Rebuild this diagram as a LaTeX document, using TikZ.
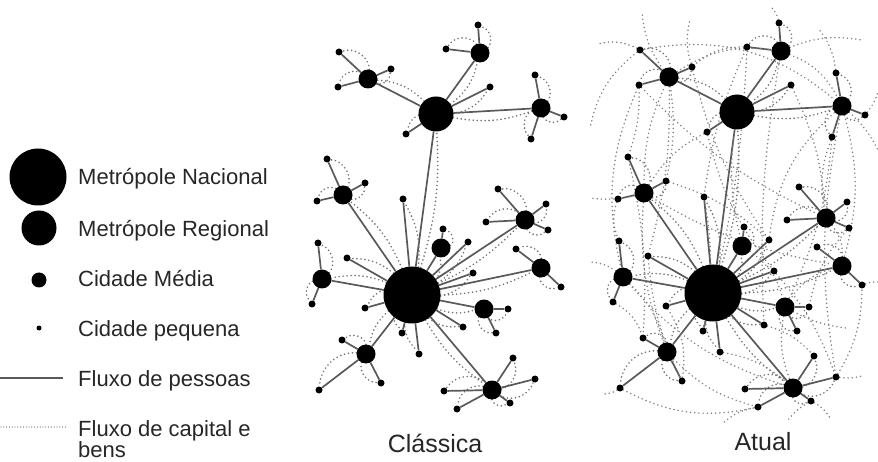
\documentclass[tikz,border=0pt]{standalone}
\usepackage{fontspec}
\setmainfont{Liberation Sans}
\pgfdeclarelayer{bg}
\pgfsetlayers{bg,main}
\begin{document}
\begin{tikzpicture}[x=1pt,y=-1pt,
  hub/.style={circle,fill=black,inner sep=0pt,minimum size=57pt},
  reg/.style={circle,fill=black,inner sep=0pt,minimum size=35pt},
  med/.style={circle,fill=black,inner sep=0pt,minimum size=19pt},
  sml/.style={circle,fill=black,inner sep=0pt,minimum size=7pt},
  flow/.style={draw=black!65,line width=1.7pt},
  dotflow/.style={draw=black!55,line width=1.8pt,line cap=round,dash pattern=on 0pt off 4pt},
  webflow/.style={draw=black!50,line width=1.7pt,line cap=round,dash pattern=on 0pt off 4.2pt},
  lbl/.style={anchor=base west,inner sep=0pt,font=\fontsize{22}{24}\selectfont,text=black!85},
  ttl/.style={anchor=center,inner sep=0pt,font=\fontsize{25}{28}\selectfont,text=black!85}]
\useasboundingbox (0,0) rectangle (878,462);

% ---------- legend ----------
\node[hub] (lgN) at (38,177) {};
\node[circle,fill=black,inner sep=0pt,minimum size=35pt] (lgR) at (39,228) {};
\node[circle,fill=black,inner sep=0pt,minimum size=15pt] (lgM) at (39,280) {};
\node[circle,fill=black,inner sep=0pt,minimum size=5pt] (lgS) at (39,328) {};
\coordinate (lgFa) at (0,378);
\coordinate (lgFb) at (63,378);
\coordinate (lgCa) at (1,427);
\coordinate (lgCb) at (67,427);
\draw[flow,line width=1.2pt] (lgFa) -- (lgFb);
\draw[dotflow,line width=1.3pt,dash pattern=on 0pt off 2.8pt] (lgCa) -- (lgCb);
\node[lbl] (tN) at (78,185) {Metrópole Nacional};
\node[lbl] (tR) at (78,236.5) {Metrópole Regional};
\node[lbl] (tM) at (78,286.5) {Cidade Média};
\node[lbl] (tS) at (78,336.5) {Cidade pequena};
\node[lbl] (tF) at (78,386.5) {Fluxo de pessoas};
\node[lbl] (tC1) at (78,436.5) {Fluxo de capital e};
\node[lbl] (tC2) at (78,457) {bens};

\node[ttl] (tCl) at (435,443) {Clássica};
\node[ttl] (tAt) at (763,442) {Atual};

% ---------- both panels ----------
\foreach \p/\dx/\dy in {c/0/0, a/301/-2} {
\begin{scope}[shift={(\dx,\dy)}]
  \node[hub] (\p-N) at (412,295) {};
  \node[reg] (\p-R) at (436,114) {};
  \node[med] (\p-m1) at (480,53) {};
  \node[med] (\p-m2) at (368,79) {};
  \node[med] (\p-m3) at (541,108) {};
  \node[med] (\p-m4) at (343,195) {};
  \node[med] (\p-m5) at (525,220) {};
  \node[med] (\p-m6) at (441,248) {};
  \node[med] (\p-m7) at (541,268) {};
  \node[med] (\p-m8) at (484,309) {};
  \node[med] (\p-m9) at (492,390) {};
  \node[med] (\p-m10) at (366,354) {};
  \node[med] (\p-m11) at (322,279) {};
  \foreach \n/\x/\y in {s1a/478/25, s1b/446/49, s2a/339/52, s2b/338/87, s2c/391/69,
     s3a/535/75, s3b/564/117, s3c/531/139, r1/490/87, r2/406/134,
     s4a/327/159, s4b/365/183, s4c/317/201, s5a/498/189, s5b/546/204, s5c/486/222, s5d/548/230,
     s6a/443/229, s7a/516/249, s7b/561/287, s8a/508/309, s8b/496/333,
     s9a/513/358, s9b/535/379, s9c/510/403, s9d/457/409, s9e/444/391,
     s10a/342/340, s10b/381/383, s10c/319/390, s11a/318/243, s11b/312/304,
     n1/403/199, n2/347/258, n3/365/308, n4/402/333, n5/419/354, n6/463/327, n7/473/273, n8/468/242}
    {\node[sml] (\p-\n) at (\x,\y) {};}
  \begin{pgfonlayer}{bg}
  \foreach \h/\k/\b in {N/R/10, N/n1/18, N/m4/14, N/n2/20, N/m11/16, N/n3/25, N/m10/18, N/n4/25,
     N/n5/22, N/m9/12, N/n6/22, N/m8/18, N/n7/22, N/m7/12, N/m5/10, N/n8/18, N/m6/25,
     R/m1/20, R/m2/20, R/m3/15, R/r1/25, R/r2/30,
     m1/s1a/60, m1/s1b/60, m2/s2a/55, m2/s2b/55, m2/s2c/55, m3/s3a/55, m3/s3b/55, m3/s3c/55,
     m4/s4a/55, m4/s4b/55, m4/s4c/55, m5/s5a/50, m5/s5b/55, m5/s5c/50, m5/s5d/55,
     m6/s6a/70, m7/s7a/55, m7/s7b/55, m8/s8a/65, m8/s8b/60,
     m9/s9a/50, m9/s9b/50, m9/s9c/55, m9/s9d/50, m9/s9e/50,
     m10/s10a/60, m10/s10b/55, m10/s10c/45, m11/s11a/55, m11/s11b/55}
    {\draw[dotflow] (\p-\h) to[bend right=\b] (\p-\k);
     \draw[flow] (\p-\h) -- (\p-\k);}
  \end{pgfonlayer}
\end{scope}
}

% ---------- extra web of capital flows (Atual) ----------
\coordinate (e1) at (590,128);
\coordinate (e2) at (642,12);
\coordinate (e3) at (770,6);
\coordinate (e4) at (862,40);
\coordinate (e5) at (878,92);
\coordinate (e6) at (878,282);
\coordinate (e7) at (590,262);
\coordinate (e8) at (603,394);
\coordinate (e9) at (862,376);
\coordinate (e10) at (830,418);
\coordinate (e11) at (722,424);
\coordinate (e12) at (590,198);
\coordinate (e13) at (818,28);
\coordinate (e14) at (846,328);
\coordinate (e15) at (690,20);
\coordinate (e16) at (878,150);
\coordinate (e17) at (598,44);
\coordinate (e18) at (788,420);
\begin{pgfonlayer}{bg}
\foreach \u/\v/\b in {a-m2/a-m1/20, a-m2/a-m4/-12, a-s2b/a-s4a/10, a-s2b/a-m11/-18, a-m2/a-n2/8,
   a-s1b/a-n1/-8, a-m1/a-m3/20, a-r1/a-m5/10, a-s3c/a-m5/-15, a-m3/a-m7/15, a-R/a-m6/-10,
   a-r2/a-m4/-15, a-n1/a-n4/10, a-m4/a-m10/-12, a-m11/a-m10/15, a-m10/a-s9d/-15, a-n5/a-m9/15,
   a-m8/a-m9/-15, a-m7/a-m8/-20, a-m5/a-m7/20, a-s9b/a-s7b/-15, a-n3/a-s10b/20, a-s10c/a-s9d/-20,
   a-n6/a-s9a/15, a-s5d/a-s8a/-15, a-s1b/a-s2c/-20, a-m6/a-m8/20, a-n8/a-m3/20, a-s4c/a-s11a/-20,
   a-m2/a-s4b/10, a-s2c/a-n8/-10, a-s1b/a-n4/6, a-m1/a-n6/-6, a-s3c/a-m8/10, a-m3/a-s9b/-10,
   a-s2a/a-m3/25, a-s2b/a-m5/-10, a-m4/a-m7/-10, a-m11/a-m9/-15, a-s4a/a-s10a/8,
   a-n2/a-s10b/-10, a-s11b/a-s10a/20, a-n7/a-s9b/10, a-r2/a-n7/-12, a-s4b/a-n8/12,
   a-s2a/e1/-20, a-m2/e2/15, a-s1a/e3/-15, a-m1/e4/15, a-s3b/e5/-10, a-s7b/e6/10, a-m11/e7/-15,
   a-s10c/e8/15, a-s9b/e9/-10, a-s9c/e10/15, a-s9d/e11/-15, a-m4/e12/10, a-s3a/e13/-15,
   a-m8/e14/-10, a-s2c/e15/15, a-m3/e16/10, a-s2a/e17/-20, a-s9c/e18/-10}
  {\draw[webflow] (\u) to[bend left=\b] (\v);}
\end{pgfonlayer}
\end{tikzpicture}
\end{document}
